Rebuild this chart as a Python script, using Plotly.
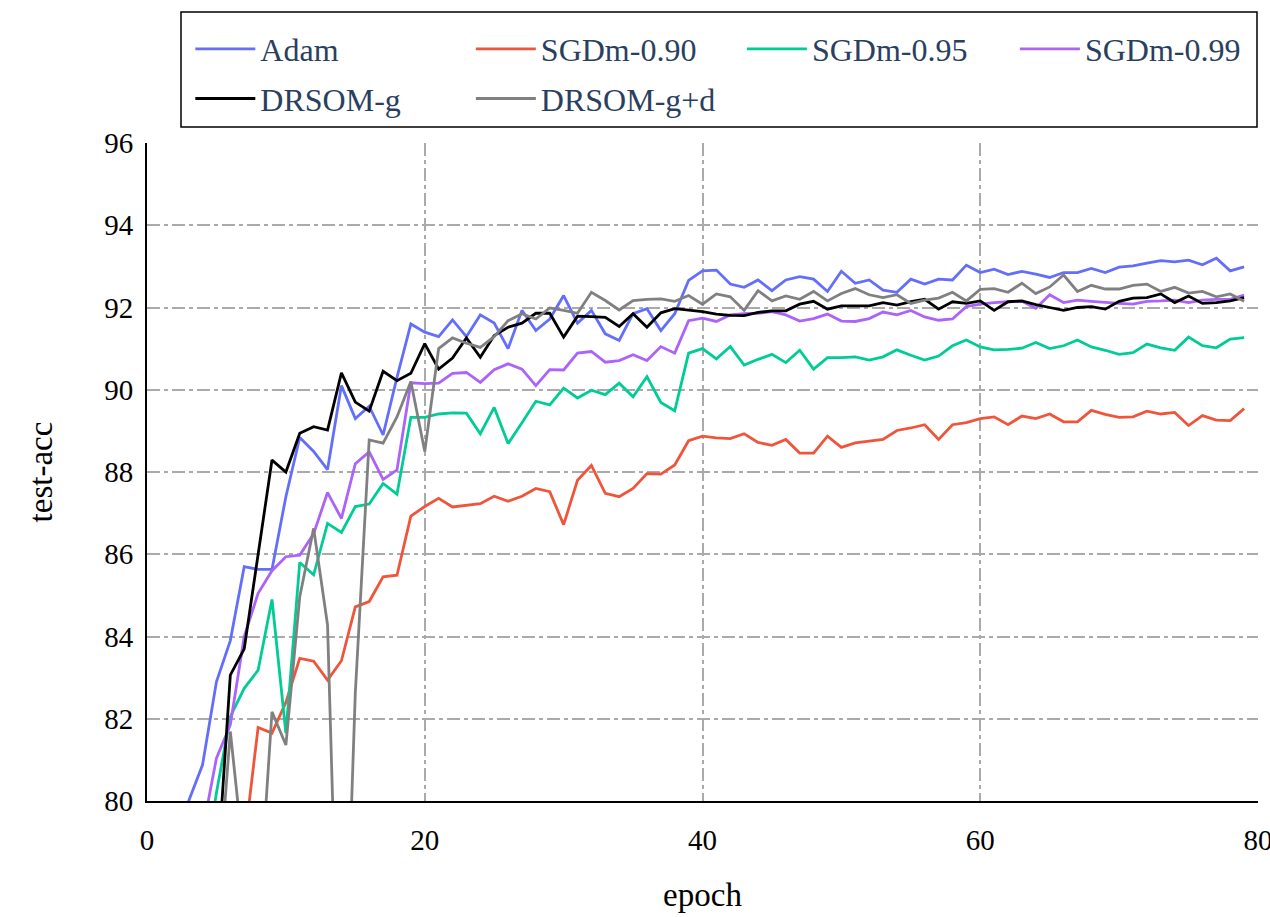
import plotly.graph_objects as go

epochs = list(range(80))

adam = [65, 72, 77, 80.0, 80.88, 82.9, 83.9, 85.7, 85.63, 85.63,
        87.4, 88.84, 88.5, 88.06, 90.1, 89.3, 89.6, 88.9, 90.3, 91.6,
        91.4, 91.29, 91.7, 91.29, 91.82, 91.62, 91.0, 91.93, 91.44, 91.72,
        92.29, 91.62, 91.93, 91.36, 91.2, 91.85, 91.97, 91.44, 91.85, 92.66,
        92.89, 92.91, 92.57, 92.49, 92.67, 92.41, 92.67, 92.75, 92.69, 92.39,
        92.88, 92.59, 92.67, 92.42, 92.37, 92.69, 92.57, 92.69, 92.67, 93.03,
        92.85, 92.93, 92.8, 92.88, 92.81, 92.73, 92.85, 92.85, 92.95, 92.85,
        92.98, 93.01, 93.08, 93.14, 93.11, 93.15, 93.04, 93.2, 92.89, 92.99]

sgdm_090 = [50, 60, 68, 72, 75, 77, 78, 78.95, 81.79, 81.65,
            82.4, 83.47, 83.4, 82.94, 83.41, 84.72, 84.85, 85.45, 85.49, 86.93,
            87.16, 87.36, 87.15, 87.19, 87.23, 87.41, 87.29, 87.41, 87.6, 87.52,
            86.72, 87.8, 88.16, 87.48, 87.4, 87.6, 87.96, 87.95, 88.17, 88.76,
            88.87, 88.83, 88.81, 88.93, 88.72, 88.65, 88.79, 88.46, 88.46, 88.87,
            88.6, 88.71, 88.75, 88.79, 89.01, 89.07, 89.15, 88.79, 89.15, 89.2,
            89.3, 89.34, 89.15, 89.36, 89.3, 89.41, 89.22, 89.22, 89.5, 89.4,
            89.33, 89.34, 89.48, 89.41, 89.45, 89.13, 89.37, 89.26, 89.25, 89.54]

sgdm_095 = [55, 65, 72, 76, 78, 80.2, 82.05, 82.74, 83.18, 84.9,
            81.65, 85.8, 85.5, 86.75, 86.53, 87.16, 87.22, 87.72, 87.46, 89.33,
            89.33, 89.41, 89.44, 89.43, 88.93, 89.57, 88.69, 89.2, 89.72, 89.63,
            90.04, 89.8, 89.99, 89.88, 90.16, 89.83, 90.32, 89.69, 89.49, 90.89,
            91.0, 90.75, 91.05, 90.6, 90.74, 90.86, 90.66, 90.96, 90.5, 90.78,
            90.78, 90.8, 90.72, 90.8, 90.97, 90.84, 90.72, 90.82, 91.07, 91.21,
            91.04, 90.97, 90.98, 91.01, 91.15, 91.0, 91.07, 91.21, 91.04, 90.96,
            90.86, 90.9, 91.11, 91.02, 90.96, 91.28, 91.07, 91.02, 91.23, 91.27]

sgdm_099 = [60, 68, 74, 77.5, 79.3, 81.04, 81.85, 84.0, 85.05, 85.6,
            85.94, 85.98, 86.5, 87.5, 86.87, 88.2, 88.49, 87.82, 88.05, 90.17,
            90.15, 90.16, 90.4, 90.42, 90.18, 90.49, 90.63, 90.5, 90.1, 90.49,
            90.48, 90.89, 90.93, 90.67, 90.71, 90.85, 90.71, 91.05, 90.89, 91.68,
            91.74, 91.66, 91.82, 91.85, 91.86, 91.9, 91.82, 91.67, 91.73, 91.84,
            91.67, 91.66, 91.73, 91.89, 91.82, 91.93, 91.77, 91.69, 91.72, 92.02,
            92.08, 92.12, 92.14, 92.15, 91.98, 92.31, 92.12, 92.18, 92.15, 92.12,
            92.1, 92.08, 92.15, 92.16, 92.18, 92.12, 92.18, 92.2, 92.2, 92.3]

drsom_g = [50, 60, 68, 73, 76, 77.96, 83.06, 83.7, 86.0, 88.29,
           88.0, 88.94, 89.1, 89.02, 90.41, 89.7, 89.48, 90.45, 90.22, 90.4,
           91.12, 90.5, 90.77, 91.26, 90.79, 91.32, 91.52, 91.62, 91.86, 91.86,
           91.28, 91.79, 91.78, 91.76, 91.54, 91.85, 91.52, 91.87, 91.97, 91.93,
           91.9, 91.84, 91.81, 91.8, 91.88, 91.92, 91.92, 92.08, 92.15, 91.96,
           92.04, 92.04, 92.04, 92.12, 92.06, 92.14, 92.2, 91.96, 92.14, 92.1,
           92.16, 91.93, 92.14, 92.16, 92.07, 92.0, 91.93, 92.0, 92.02, 91.96,
           92.15, 92.23, 92.24, 92.33, 92.12, 92.28, 92.1, 92.12, 92.16, 92.24]

drsom_gd = [50, 60, 68, 73, 75, 77.24, 81.69, 78.5, 77.0, 82.17,
            81.36, 84.97, 86.63, 84.28, 72.6, 82.63, 88.78, 88.7, 89.34, 90.2,
            88.5, 91.0, 91.26, 91.13, 91.03, 91.29, 91.68, 91.85, 91.72, 91.99,
            91.93, 91.86, 92.37, 92.17, 91.94, 92.17, 92.2, 92.21, 92.15, 92.29,
            92.08, 92.33, 92.26, 91.93, 92.41, 92.16, 92.28, 92.2, 92.39, 92.16,
            92.34, 92.46, 92.31, 92.24, 92.31, 92.1, 92.18, 92.23, 92.37, 92.16,
            92.44, 92.46, 92.37, 92.59, 92.34, 92.5, 92.79, 92.39, 92.54, 92.45,
            92.45, 92.54, 92.57, 92.39, 92.49, 92.35, 92.39, 92.26, 92.33, 92.15]

# (name, values, colour, legend column)
series = [
    ("Adam", adam, "#636efa", "legend"),
    ("SGDm-0.90", sgdm_090, "#EF553B", "legend2"),
    ("SGDm-0.95", sgdm_095, "#00cc96", "legend3"),
    ("SGDm-0.99", sgdm_099, "#ab63fa", "legend4"),
    ("DRSOM-g", drsom_g, "#000000", "legend"),
    ("DRSOM-g+d", drsom_gd, "#808080", "legend2"),
]

x_ticks = [0, 20, 40, 60, 80]
y_ticks = [80, 82, 84, 86, 88, 90, 92, 94, 96]
x_grid = [20, 40, 60]
y_grid = [82, 84, 86, 88, 90, 92, 94]

FONT = "Liberation Serif"

fig = go.Figure()
for name, vals, color, leg in series:
    fig.add_trace(go.Scatter(x=epochs, y=vals, mode="lines", name=name,
                             legend=leg, legendgroup=name,
                             line=dict(color=color, width=2.8)))

legend_common = dict(
    orientation="v", xanchor="left", yanchor="top", y=1.1845,
    borderwidth=0, bgcolor="rgba(0,0,0,0)",
    font=dict(family=FONT, size=32, color="#2a3f5f"),
    itemwidth=60, tracegroupgap=5,
)

grid_color = "#aaaaaa"
grid_dash = "13px,4px,4px,4px"
fig.update_layout(
    width=1270, height=917,
    margin=dict(l=147, r=12, t=143, b=116),
    plot_bgcolor="white", paper_bgcolor="white",
    font=dict(family=FONT, size=29, color="black"),
    legend=dict(x=0.0390, **legend_common),
    legend2=dict(x=0.2915, **legend_common),
    legend3=dict(x=0.5355, **legend_common),
    legend4=dict(x=0.7812, **legend_common),
    xaxis=dict(
        range=[0, 80], tickvals=x_ticks, showgrid=False, zeroline=False,
        showline=True, linecolor="black", linewidth=2,
        ticks="outside", ticklen=12, tickcolor="rgba(0,0,0,0)",
        ticklabeloverflow="allow", automargin=False,
        title=dict(text="epoch", standoff=28, font=dict(size=33)),
        minor=dict(tickvals=x_grid, showgrid=True, gridcolor=grid_color,
                   griddash=grid_dash, gridwidth=1.5),
    ),
    yaxis=dict(
        range=[80, 96], tickvals=y_ticks, showgrid=False, zeroline=False,
        showline=True, linecolor="black", linewidth=2,
        ticks="outside", ticklen=6, tickcolor="rgba(0,0,0,0)",
        automargin=False,
        title=dict(text="test-acc", standoff=42, font=dict(size=33)),
        minor=dict(tickvals=y_grid, showgrid=True,
                   gridcolor=grid_color, griddash=grid_dash, gridwidth=1.5),
    ),
    shapes=[dict(type="rect", xref="paper", yref="paper",
                 x0=0.0306, x1=0.9991, y0=1.0243, y1=1.1991,
                 line=dict(color="black", width=1.5),
                 fillcolor="rgba(0,0,0,0)", layer="below")],
)

fig.write_html("out.html")
